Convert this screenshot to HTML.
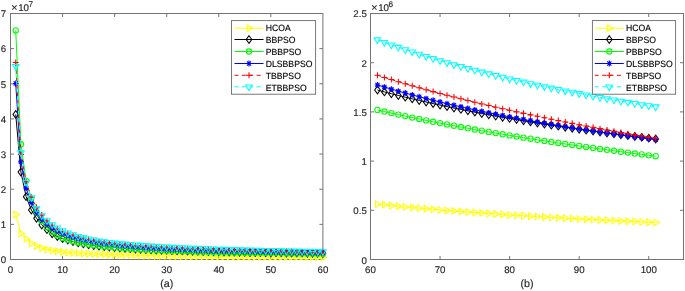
<!DOCTYPE html>
<html><head><meta charset="utf-8"><title>chart</title>
<style>html,body{margin:0;padding:0;background:#fff}body{width:685px;height:291px;overflow:hidden;font-family:"Liberation Sans",sans-serif}</style>
</head><body>
<svg width="685" height="291" viewBox="0 0 685 291" style="display:block;will-change:transform">
<rect width="685" height="291" fill="#fff"/>
<g fill="none" stroke="#747474" stroke-width="1">
<rect x="10.5" y="13.5" width="312.40" height="246.00"/>
<path d="M62.57 259.5v-3.5M62.57 13.5v3.5M114.63 259.5v-3.5M114.63 13.5v3.5M166.70 259.5v-3.5M166.70 13.5v3.5M218.77 259.5v-3.5M218.77 13.5v3.5M270.83 259.5v-3.5M270.83 13.5v3.5M10.5 224.36h3.5M322.9 224.36h-3.5M10.5 189.21h3.5M322.9 189.21h-3.5M10.5 154.07h3.5M322.9 154.07h-3.5M10.5 118.93h3.5M322.9 118.93h-3.5M10.5 83.79h3.5M322.9 83.79h-3.5M10.5 48.64h3.5M322.9 48.64h-3.5"/>
</g>
<g font-family="Liberation Sans, sans-serif" text-rendering="geometricPrecision" font-size="9.7" fill="#262626" stroke="#262626" stroke-width="0.15">
<text x="10.50" y="272.9" text-anchor="middle">0</text>
<text x="62.57" y="272.9" text-anchor="middle">10</text>
<text x="114.63" y="272.9" text-anchor="middle">20</text>
<text x="166.70" y="272.9" text-anchor="middle">30</text>
<text x="218.77" y="272.9" text-anchor="middle">40</text>
<text x="270.83" y="272.9" text-anchor="middle">50</text>
<text x="322.90" y="272.9" text-anchor="middle">60</text>
<text x="6.10" y="263.30" text-anchor="end">0</text>
<text x="6.10" y="228.16" text-anchor="end">1</text>
<text x="6.10" y="193.01" text-anchor="end">2</text>
<text x="6.10" y="157.57" text-anchor="end">3</text>
<text x="6.10" y="122.73" text-anchor="end">4</text>
<text x="6.10" y="87.59" text-anchor="end">5</text>
<text x="6.10" y="52.44" text-anchor="end">6</text>
<text x="6.10" y="17.00" text-anchor="end">7</text>
<text x="11.30" y="11.4" font-size="10.6">×</text>
<text x="18.20" y="11.2">10</text>
<text x="28.40" y="6.9" font-size="8.2">7</text>
<text x="166.70" y="286.6" text-anchor="middle" font-size="10.7">(a)</text>
</g>
<g fill="none" stroke="#ffff00">
<polyline stroke-width="1.0" points="15.71,214.57 20.91,233.58 26.12,238.89 31.33,243.35 36.53,246.12 41.74,248.02 46.95,249.41 52.15,250.47 57.36,251.31 62.57,252.00 67.77,252.43 72.98,252.81 78.19,253.14 83.39,253.43 88.60,253.68 93.81,253.91 99.01,254.12 104.22,254.31 109.43,254.48 114.63,254.63 119.84,254.80 125.05,254.96 130.25,255.10 135.46,255.23 140.67,255.36 145.87,255.47 151.08,255.58 156.29,255.68 161.49,255.77 166.70,255.86 171.91,255.94 177.11,256.02 182.32,256.09 187.53,256.16 192.73,256.23 197.94,256.29 203.15,256.35 208.35,256.40 213.56,256.46 218.77,256.51 223.97,256.56 229.18,256.60 234.39,256.65 239.59,256.69 244.80,256.73 250.01,256.77 255.21,256.81 260.42,256.85 265.63,256.89 270.83,256.92 276.04,256.95 281.25,256.99 286.45,257.02 291.66,257.05 296.87,257.08 302.07,257.11 307.28,257.13 312.49,257.16 317.69,257.19 322.90,257.21"/>
<g stroke-width="1.05">
<path d="M13.81 211.27V217.87L19.51 214.57Z"/>
<path d="M19.01 230.28V236.88L24.71 233.58Z"/>
<path d="M24.22 235.59V242.19L29.92 238.89Z"/>
<path d="M29.43 240.05V246.65L35.13 243.35Z"/>
<path d="M34.63 242.82V249.42L40.33 246.12Z"/>
<path d="M39.84 244.72V251.32L45.54 248.02Z"/>
<path d="M45.05 246.11V252.71L50.75 249.41Z"/>
<path d="M50.25 247.17V253.77L55.95 250.47Z"/>
<path d="M55.46 248.01V254.61L61.16 251.31Z"/>
<path d="M60.67 248.70V255.30L66.37 252.00Z"/>
<path d="M65.87 249.13V255.73L71.57 252.43Z"/>
<path d="M71.08 249.51V256.11L76.78 252.81Z"/>
<path d="M76.29 249.84V256.44L81.99 253.14Z"/>
<path d="M81.49 250.13V256.73L87.19 253.43Z"/>
<path d="M86.70 250.38V256.98L92.40 253.68Z"/>
<path d="M91.91 250.61V257.21L97.61 253.91Z"/>
<path d="M97.11 250.82V257.42L102.81 254.12Z"/>
<path d="M102.32 251.01V257.61L108.02 254.31Z"/>
<path d="M107.53 251.18V257.78L113.23 254.48Z"/>
<path d="M112.73 251.33V257.93L118.43 254.63Z"/>
<path d="M117.94 251.50V258.10L123.64 254.80Z"/>
<path d="M123.15 251.66V258.26L128.85 254.96Z"/>
<path d="M128.35 251.80V258.40L134.05 255.10Z"/>
<path d="M133.56 251.93V258.53L139.26 255.23Z"/>
<path d="M138.77 252.06V258.66L144.47 255.36Z"/>
<path d="M143.97 252.17V258.77L149.67 255.47Z"/>
<path d="M149.18 252.28V258.88L154.88 255.58Z"/>
<path d="M154.39 252.38V258.98L160.09 255.68Z"/>
<path d="M159.59 252.47V259.07L165.29 255.77Z"/>
<path d="M164.80 252.56V259.16L170.50 255.86Z"/>
<path d="M170.01 252.64V259.24L175.71 255.94Z"/>
<path d="M175.21 252.72V259.32L180.91 256.02Z"/>
<path d="M180.42 252.79V259.39L186.12 256.09Z"/>
<path d="M185.63 252.86V259.46L191.33 256.16Z"/>
<path d="M190.83 252.93V259.53L196.53 256.23Z"/>
<path d="M196.04 252.99V259.59L201.74 256.29Z"/>
<path d="M201.25 253.05V259.65L206.95 256.35Z"/>
<path d="M206.45 253.10V259.70L212.15 256.40Z"/>
<path d="M211.66 253.16V259.76L217.36 256.46Z"/>
<path d="M216.87 253.21V259.81L222.57 256.51Z"/>
<path d="M222.07 253.26V259.86L227.77 256.56Z"/>
<path d="M227.28 253.30V259.90L232.98 256.60Z"/>
<path d="M232.49 253.35V259.95L238.19 256.65Z"/>
<path d="M237.69 253.39V259.99L243.39 256.69Z"/>
<path d="M242.90 253.43V260.03L248.60 256.73Z"/>
<path d="M248.11 253.47V260.07L253.81 256.77Z"/>
<path d="M253.31 253.51V260.11L259.01 256.81Z"/>
<path d="M258.52 253.55V260.15L264.22 256.85Z"/>
<path d="M263.73 253.59V260.19L269.43 256.89Z"/>
<path d="M268.93 253.62V260.22L274.63 256.92Z"/>
<path d="M274.14 253.65V260.25L279.84 256.95Z"/>
<path d="M279.35 253.69V260.29L285.05 256.99Z"/>
<path d="M284.55 253.72V260.32L290.25 257.02Z"/>
<path d="M289.76 253.75V260.35L295.46 257.05Z"/>
<path d="M294.97 253.78V260.38L300.67 257.08Z"/>
<path d="M300.17 253.81V260.41L305.87 257.11Z"/>
<path d="M305.38 253.83V260.43L311.08 257.13Z"/>
<path d="M310.59 253.86V260.46L316.29 257.16Z"/>
<path d="M315.79 253.89V260.49L321.49 257.19Z"/>
<path d="M321.00 253.91V260.51L326.70 257.21Z"/>
</g></g>
<g fill="none" stroke="#000000">
<polyline stroke-width="1.0" points="15.71,114.41 20.91,172.05 26.12,196.65 31.33,210.00 36.53,218.26 41.74,224.94 46.95,229.68 52.15,233.72 57.36,236.53 62.57,238.57 67.77,240.12 72.98,241.52 78.19,242.82 83.39,243.88 88.60,244.72 93.81,245.57 99.01,246.12 104.22,246.62 109.43,247.06 114.63,247.46 119.84,247.90 125.05,248.30 130.25,248.67 135.46,249.01 140.67,249.28 145.87,249.54 151.08,249.78 156.29,250.00 161.49,250.22 166.70,250.42 171.91,250.59 177.11,250.76 182.32,250.92 187.53,251.07 192.73,251.22 197.94,251.35 203.15,251.49 208.35,251.61 213.56,251.73 218.77,251.85 223.97,251.96 229.18,252.07 234.39,252.17 239.59,252.27 244.80,252.36 250.01,252.44 255.21,252.53 260.42,252.61 265.63,252.69 270.83,252.77 276.04,252.84 281.25,252.91 286.45,252.98 291.66,253.05 296.87,253.12 302.07,253.18 307.28,253.24 312.49,253.30 317.69,253.36 322.90,253.42"/>
<g stroke-width="1.05">
<path d="M15.71 110.61L18.51 114.41L15.71 118.21L12.91 114.41Z"/>
<path d="M20.91 168.25L23.71 172.05L20.91 175.85L18.11 172.05Z"/>
<path d="M26.12 192.85L28.92 196.65L26.12 200.45L23.32 196.65Z"/>
<path d="M31.33 206.20L34.13 210.00L31.33 213.80L28.53 210.00Z"/>
<path d="M36.53 214.46L39.33 218.26L36.53 222.06L33.73 218.26Z"/>
<path d="M41.74 221.14L44.54 224.94L41.74 228.74L38.94 224.94Z"/>
<path d="M46.95 225.88L49.75 229.68L46.95 233.48L44.15 229.68Z"/>
<path d="M52.15 229.92L54.95 233.72L52.15 237.52L49.35 233.72Z"/>
<path d="M57.36 232.73L60.16 236.53L57.36 240.33L54.56 236.53Z"/>
<path d="M62.57 234.77L65.37 238.57L62.57 242.37L59.77 238.57Z"/>
<path d="M67.77 236.32L70.57 240.12L67.77 243.92L64.97 240.12Z"/>
<path d="M72.98 237.72L75.78 241.52L72.98 245.32L70.18 241.52Z"/>
<path d="M78.19 239.02L80.99 242.82L78.19 246.62L75.39 242.82Z"/>
<path d="M83.39 240.08L86.19 243.88L83.39 247.68L80.59 243.88Z"/>
<path d="M88.60 240.92L91.40 244.72L88.60 248.52L85.80 244.72Z"/>
<path d="M93.81 241.77L96.61 245.57L93.81 249.37L91.01 245.57Z"/>
<path d="M99.01 242.32L101.81 246.12L99.01 249.92L96.21 246.12Z"/>
<path d="M104.22 242.82L107.02 246.62L104.22 250.42L101.42 246.62Z"/>
<path d="M109.43 243.26L112.23 247.06L109.43 250.86L106.63 247.06Z"/>
<path d="M114.63 243.66L117.43 247.46L114.63 251.26L111.83 247.46Z"/>
<path d="M119.84 244.10L122.64 247.90L119.84 251.70L117.04 247.90Z"/>
<path d="M125.05 244.50L127.85 248.30L125.05 252.10L122.25 248.30Z"/>
<path d="M130.25 244.87L133.05 248.67L130.25 252.47L127.45 248.67Z"/>
<path d="M135.46 245.21L138.26 249.01L135.46 252.81L132.66 249.01Z"/>
<path d="M140.67 245.48L143.47 249.28L140.67 253.08L137.87 249.28Z"/>
<path d="M145.87 245.74L148.67 249.54L145.87 253.34L143.07 249.54Z"/>
<path d="M151.08 245.98L153.88 249.78L151.08 253.58L148.28 249.78Z"/>
<path d="M156.29 246.20L159.09 250.00L156.29 253.80L153.49 250.00Z"/>
<path d="M161.49 246.42L164.29 250.22L161.49 254.02L158.69 250.22Z"/>
<path d="M166.70 246.62L169.50 250.42L166.70 254.22L163.90 250.42Z"/>
<path d="M171.91 246.79L174.71 250.59L171.91 254.39L169.11 250.59Z"/>
<path d="M177.11 246.96L179.91 250.76L177.11 254.56L174.31 250.76Z"/>
<path d="M182.32 247.12L185.12 250.92L182.32 254.72L179.52 250.92Z"/>
<path d="M187.53 247.27L190.33 251.07L187.53 254.87L184.73 251.07Z"/>
<path d="M192.73 247.42L195.53 251.22L192.73 255.02L189.93 251.22Z"/>
<path d="M197.94 247.55L200.74 251.35L197.94 255.15L195.14 251.35Z"/>
<path d="M203.15 247.69L205.95 251.49L203.15 255.29L200.35 251.49Z"/>
<path d="M208.35 247.81L211.15 251.61L208.35 255.41L205.55 251.61Z"/>
<path d="M213.56 247.93L216.36 251.73L213.56 255.53L210.76 251.73Z"/>
<path d="M218.77 248.05L221.57 251.85L218.77 255.65L215.97 251.85Z"/>
<path d="M223.97 248.16L226.77 251.96L223.97 255.76L221.17 251.96Z"/>
<path d="M229.18 248.27L231.98 252.07L229.18 255.87L226.38 252.07Z"/>
<path d="M234.39 248.37L237.19 252.17L234.39 255.97L231.59 252.17Z"/>
<path d="M239.59 248.47L242.39 252.27L239.59 256.07L236.79 252.27Z"/>
<path d="M244.80 248.56L247.60 252.36L244.80 256.16L242.00 252.36Z"/>
<path d="M250.01 248.64L252.81 252.44L250.01 256.24L247.21 252.44Z"/>
<path d="M255.21 248.73L258.01 252.53L255.21 256.33L252.41 252.53Z"/>
<path d="M260.42 248.81L263.22 252.61L260.42 256.41L257.62 252.61Z"/>
<path d="M265.63 248.89L268.43 252.69L265.63 256.49L262.83 252.69Z"/>
<path d="M270.83 248.97L273.63 252.77L270.83 256.57L268.03 252.77Z"/>
<path d="M276.04 249.04L278.84 252.84L276.04 256.64L273.24 252.84Z"/>
<path d="M281.25 249.11L284.05 252.91L281.25 256.71L278.45 252.91Z"/>
<path d="M286.45 249.18L289.25 252.98L286.45 256.78L283.65 252.98Z"/>
<path d="M291.66 249.25L294.46 253.05L291.66 256.85L288.86 253.05Z"/>
<path d="M296.87 249.32L299.67 253.12L296.87 256.92L294.07 253.12Z"/>
<path d="M302.07 249.38L304.87 253.18L302.07 256.98L299.27 253.18Z"/>
<path d="M307.28 249.44L310.08 253.24L307.28 257.04L304.48 253.24Z"/>
<path d="M312.49 249.50L315.29 253.30L312.49 257.10L309.69 253.30Z"/>
<path d="M317.69 249.56L320.49 253.36L317.69 257.16L314.89 253.36Z"/>
<path d="M322.90 249.62L325.70 253.42L322.90 257.22L320.10 253.42Z"/>
</g></g>
<g fill="none" stroke="#00ff00">
<polyline stroke-width="1.0" points="15.71,30.42 20.91,144.28 26.12,180.83 31.33,198.76 36.53,212.43 41.74,221.27 46.95,227.43 52.15,231.95 57.36,235.40 62.57,238.12 67.77,239.81 72.98,241.24 78.19,242.46 83.39,243.52 88.60,244.44 93.81,245.22 99.01,245.91 104.22,246.53 109.43,247.09 114.63,247.60 119.84,248.04 125.05,248.44 130.25,248.81 135.46,249.15 140.67,249.47 145.87,249.76 151.08,250.04 156.29,250.30 161.49,250.54 166.70,250.77 171.91,250.94 177.11,251.11 182.32,251.27 187.53,251.42 192.73,251.57 197.94,251.71 203.15,251.84 208.35,251.97 213.56,252.09 218.77,252.20 223.97,252.31 229.18,252.42 234.39,252.52 239.59,252.62 244.80,252.72 250.01,252.81 255.21,252.90 260.42,252.98 265.63,253.06 270.83,253.14 276.04,253.22 281.25,253.29 286.45,253.37 291.66,253.43 296.87,253.50 302.07,253.57 307.28,253.63 312.49,253.69 317.69,253.75 322.90,253.81"/>
<g stroke-width="1.05">
<circle cx="15.71" cy="30.42" r="2.65"/>
<circle cx="20.91" cy="144.28" r="2.65"/>
<circle cx="26.12" cy="180.83" r="2.65"/>
<circle cx="31.33" cy="198.76" r="2.65"/>
<circle cx="36.53" cy="212.43" r="2.65"/>
<circle cx="41.74" cy="221.27" r="2.65"/>
<circle cx="46.95" cy="227.43" r="2.65"/>
<circle cx="52.15" cy="231.95" r="2.65"/>
<circle cx="57.36" cy="235.40" r="2.65"/>
<circle cx="62.57" cy="238.12" r="2.65"/>
<circle cx="67.77" cy="239.81" r="2.65"/>
<circle cx="72.98" cy="241.24" r="2.65"/>
<circle cx="78.19" cy="242.46" r="2.65"/>
<circle cx="83.39" cy="243.52" r="2.65"/>
<circle cx="88.60" cy="244.44" r="2.65"/>
<circle cx="93.81" cy="245.22" r="2.65"/>
<circle cx="99.01" cy="245.91" r="2.65"/>
<circle cx="104.22" cy="246.53" r="2.65"/>
<circle cx="109.43" cy="247.09" r="2.65"/>
<circle cx="114.63" cy="247.60" r="2.65"/>
<circle cx="119.84" cy="248.04" r="2.65"/>
<circle cx="125.05" cy="248.44" r="2.65"/>
<circle cx="130.25" cy="248.81" r="2.65"/>
<circle cx="135.46" cy="249.15" r="2.65"/>
<circle cx="140.67" cy="249.47" r="2.65"/>
<circle cx="145.87" cy="249.76" r="2.65"/>
<circle cx="151.08" cy="250.04" r="2.65"/>
<circle cx="156.29" cy="250.30" r="2.65"/>
<circle cx="161.49" cy="250.54" r="2.65"/>
<circle cx="166.70" cy="250.77" r="2.65"/>
<circle cx="171.91" cy="250.94" r="2.65"/>
<circle cx="177.11" cy="251.11" r="2.65"/>
<circle cx="182.32" cy="251.27" r="2.65"/>
<circle cx="187.53" cy="251.42" r="2.65"/>
<circle cx="192.73" cy="251.57" r="2.65"/>
<circle cx="197.94" cy="251.71" r="2.65"/>
<circle cx="203.15" cy="251.84" r="2.65"/>
<circle cx="208.35" cy="251.97" r="2.65"/>
<circle cx="213.56" cy="252.09" r="2.65"/>
<circle cx="218.77" cy="252.20" r="2.65"/>
<circle cx="223.97" cy="252.31" r="2.65"/>
<circle cx="229.18" cy="252.42" r="2.65"/>
<circle cx="234.39" cy="252.52" r="2.65"/>
<circle cx="239.59" cy="252.62" r="2.65"/>
<circle cx="244.80" cy="252.72" r="2.65"/>
<circle cx="250.01" cy="252.81" r="2.65"/>
<circle cx="255.21" cy="252.90" r="2.65"/>
<circle cx="260.42" cy="252.98" r="2.65"/>
<circle cx="265.63" cy="253.06" r="2.65"/>
<circle cx="270.83" cy="253.14" r="2.65"/>
<circle cx="276.04" cy="253.22" r="2.65"/>
<circle cx="281.25" cy="253.29" r="2.65"/>
<circle cx="286.45" cy="253.37" r="2.65"/>
<circle cx="291.66" cy="253.43" r="2.65"/>
<circle cx="296.87" cy="253.50" r="2.65"/>
<circle cx="302.07" cy="253.57" r="2.65"/>
<circle cx="307.28" cy="253.63" r="2.65"/>
<circle cx="312.49" cy="253.69" r="2.65"/>
<circle cx="317.69" cy="253.75" r="2.65"/>
<circle cx="322.90" cy="253.81" r="2.65"/>
</g></g>
<g fill="none" stroke="#0000ff">
<polyline stroke-width="1.0" points="15.71,83.49 20.91,161.86 26.12,188.21 31.33,202.62 36.53,212.53 41.74,219.33 46.95,224.30 52.15,228.10 57.36,231.10 62.57,233.55 67.77,235.50 72.98,237.16 78.19,238.58 83.39,239.81 88.60,240.89 93.81,241.85 99.01,242.71 104.22,243.47 109.43,244.16 114.63,244.79 119.84,245.38 125.05,245.92 130.25,246.41 135.46,246.87 140.67,247.29 145.87,247.69 151.08,248.05 156.29,248.39 161.49,248.71 166.70,249.01 171.91,249.24 177.11,249.46 182.32,249.67 187.53,249.87 192.73,250.06 197.94,250.24 203.15,250.41 208.35,250.57 213.56,250.73 218.77,250.88 223.97,251.02 229.18,251.16 234.39,251.29 239.59,251.42 244.80,251.54 250.01,251.65 255.21,251.76 260.42,251.87 265.63,251.97 270.83,252.07 276.04,252.17 281.25,252.26 286.45,252.35 291.66,252.44 296.87,252.52 302.07,252.60 307.28,252.68 312.49,252.76 317.69,252.83 322.90,252.91"/>
<g stroke-width="1.05">
<path stroke-width="1.12" d="M13.01 83.49H18.41M15.71 80.59V86.39M13.66 81.44L17.76 85.54M13.66 85.54L17.76 81.44"/>
<path stroke-width="1.12" d="M18.21 161.86H23.61M20.91 158.96V164.76M18.86 159.81L22.96 163.91M18.86 163.91L22.96 159.81"/>
<path stroke-width="1.12" d="M23.42 188.21H28.82M26.12 185.31V191.11M24.07 186.16L28.17 190.26M24.07 190.26L28.17 186.16"/>
<path stroke-width="1.12" d="M28.63 202.62H34.03M31.33 199.72V205.52M29.28 200.57L33.38 204.67M29.28 204.67L33.38 200.57"/>
<path stroke-width="1.12" d="M33.83 212.53H39.23M36.53 209.63V215.43M34.48 210.48L38.58 214.58M34.48 214.58L38.58 210.48"/>
<path stroke-width="1.12" d="M39.04 219.33H44.44M41.74 216.43V222.23M39.69 217.28L43.79 221.38M39.69 221.38L43.79 217.28"/>
<path stroke-width="1.12" d="M44.25 224.30H49.65M46.95 221.40V227.20M44.90 222.25L49.00 226.35M44.90 226.35L49.00 222.25"/>
<path stroke-width="1.12" d="M49.45 228.10H54.85M52.15 225.20V231.00M50.10 226.05L54.20 230.15M50.10 230.15L54.20 226.05"/>
<path stroke-width="1.12" d="M54.66 231.10H60.06M57.36 228.20V234.00M55.31 229.05L59.41 233.15M55.31 233.15L59.41 229.05"/>
<path stroke-width="1.12" d="M59.87 233.55H65.27M62.57 230.65V236.45M60.52 231.50L64.62 235.60M60.52 235.60L64.62 231.50"/>
<path stroke-width="1.12" d="M65.07 235.50H70.47M67.77 232.60V238.40M65.72 233.45L69.82 237.55M65.72 237.55L69.82 233.45"/>
<path stroke-width="1.12" d="M70.28 237.16H75.68M72.98 234.26V240.06M70.93 235.11L75.03 239.21M70.93 239.21L75.03 235.11"/>
<path stroke-width="1.12" d="M75.49 238.58H80.89M78.19 235.68V241.48M76.14 236.53L80.24 240.63M76.14 240.63L80.24 236.53"/>
<path stroke-width="1.12" d="M80.69 239.81H86.09M83.39 236.91V242.71M81.34 237.76L85.44 241.86M81.34 241.86L85.44 237.76"/>
<path stroke-width="1.12" d="M85.90 240.89H91.30M88.60 237.99V243.79M86.55 238.84L90.65 242.94M86.55 242.94L90.65 238.84"/>
<path stroke-width="1.12" d="M91.11 241.85H96.51M93.81 238.95V244.75M91.76 239.80L95.86 243.90M91.76 243.90L95.86 239.80"/>
<path stroke-width="1.12" d="M96.31 242.71H101.71M99.01 239.81V245.61M96.96 240.66L101.06 244.76M96.96 244.76L101.06 240.66"/>
<path stroke-width="1.12" d="M101.52 243.47H106.92M104.22 240.57V246.37M102.17 241.42L106.27 245.52M102.17 245.52L106.27 241.42"/>
<path stroke-width="1.12" d="M106.73 244.16H112.13M109.43 241.26V247.06M107.38 242.11L111.48 246.21M107.38 246.21L111.48 242.11"/>
<path stroke-width="1.12" d="M111.93 244.79H117.33M114.63 241.89V247.69M112.58 242.74L116.68 246.84M112.58 246.84L116.68 242.74"/>
<path stroke-width="1.12" d="M117.14 245.38H122.54M119.84 242.48V248.28M117.79 243.33L121.89 247.43M117.79 247.43L121.89 243.33"/>
<path stroke-width="1.12" d="M122.35 245.92H127.75M125.05 243.02V248.82M123.00 243.87L127.10 247.97M123.00 247.97L127.10 243.87"/>
<path stroke-width="1.12" d="M127.55 246.41H132.95M130.25 243.51V249.31M128.20 244.36L132.30 248.46M128.20 248.46L132.30 244.36"/>
<path stroke-width="1.12" d="M132.76 246.87H138.16M135.46 243.97V249.77M133.41 244.82L137.51 248.92M133.41 248.92L137.51 244.82"/>
<path stroke-width="1.12" d="M137.97 247.29H143.37M140.67 244.39V250.19M138.62 245.24L142.72 249.34M138.62 249.34L142.72 245.24"/>
<path stroke-width="1.12" d="M143.17 247.69H148.57M145.87 244.79V250.59M143.82 245.64L147.92 249.74M143.82 249.74L147.92 245.64"/>
<path stroke-width="1.12" d="M148.38 248.05H153.78M151.08 245.15V250.95M149.03 246.00L153.13 250.10M149.03 250.10L153.13 246.00"/>
<path stroke-width="1.12" d="M153.59 248.39H158.99M156.29 245.49V251.29M154.24 246.34L158.34 250.44M154.24 250.44L158.34 246.34"/>
<path stroke-width="1.12" d="M158.79 248.71H164.19M161.49 245.81V251.61M159.44 246.66L163.54 250.76M159.44 250.76L163.54 246.66"/>
<path stroke-width="1.12" d="M164.00 249.01H169.40M166.70 246.11V251.91M164.65 246.96L168.75 251.06M164.65 251.06L168.75 246.96"/>
<path stroke-width="1.12" d="M169.21 249.24H174.61M171.91 246.34V252.14M169.86 247.19L173.96 251.29M169.86 251.29L173.96 247.19"/>
<path stroke-width="1.12" d="M174.41 249.46H179.81M177.11 246.56V252.36M175.06 247.41L179.16 251.51M175.06 251.51L179.16 247.41"/>
<path stroke-width="1.12" d="M179.62 249.67H185.02M182.32 246.77V252.57M180.27 247.62L184.37 251.72M180.27 251.72L184.37 247.62"/>
<path stroke-width="1.12" d="M184.83 249.87H190.23M187.53 246.97V252.77M185.48 247.82L189.58 251.92M185.48 251.92L189.58 247.82"/>
<path stroke-width="1.12" d="M190.03 250.06H195.43M192.73 247.16V252.96M190.68 248.01L194.78 252.11M190.68 252.11L194.78 248.01"/>
<path stroke-width="1.12" d="M195.24 250.24H200.64M197.94 247.34V253.14M195.89 248.19L199.99 252.29M195.89 252.29L199.99 248.19"/>
<path stroke-width="1.12" d="M200.45 250.41H205.85M203.15 247.51V253.31M201.10 248.36L205.20 252.46M201.10 252.46L205.20 248.36"/>
<path stroke-width="1.12" d="M205.65 250.57H211.05M208.35 247.67V253.47M206.30 248.52L210.40 252.62M206.30 252.62L210.40 248.52"/>
<path stroke-width="1.12" d="M210.86 250.73H216.26M213.56 247.83V253.63M211.51 248.68L215.61 252.78M211.51 252.78L215.61 248.68"/>
<path stroke-width="1.12" d="M216.07 250.88H221.47M218.77 247.98V253.78M216.72 248.83L220.82 252.93M216.72 252.93L220.82 248.83"/>
<path stroke-width="1.12" d="M221.27 251.02H226.67M223.97 248.12V253.92M221.92 248.97L226.02 253.07M221.92 253.07L226.02 248.97"/>
<path stroke-width="1.12" d="M226.48 251.16H231.88M229.18 248.26V254.06M227.13 249.11L231.23 253.21M227.13 253.21L231.23 249.11"/>
<path stroke-width="1.12" d="M231.69 251.29H237.09M234.39 248.39V254.19M232.34 249.24L236.44 253.34M232.34 253.34L236.44 249.24"/>
<path stroke-width="1.12" d="M236.89 251.42H242.29M239.59 248.52V254.32M237.54 249.37L241.64 253.47M237.54 253.47L241.64 249.37"/>
<path stroke-width="1.12" d="M242.10 251.54H247.50M244.80 248.64V254.44M242.75 249.49L246.85 253.59M242.75 253.59L246.85 249.49"/>
<path stroke-width="1.12" d="M247.31 251.65H252.71M250.01 248.75V254.55M247.96 249.60L252.06 253.70M247.96 253.70L252.06 249.60"/>
<path stroke-width="1.12" d="M252.51 251.76H257.91M255.21 248.86V254.66M253.16 249.71L257.26 253.81M253.16 253.81L257.26 249.71"/>
<path stroke-width="1.12" d="M257.72 251.87H263.12M260.42 248.97V254.77M258.37 249.82L262.47 253.92M258.37 253.92L262.47 249.82"/>
<path stroke-width="1.12" d="M262.93 251.97H268.33M265.63 249.07V254.87M263.58 249.92L267.68 254.02M263.58 254.02L267.68 249.92"/>
<path stroke-width="1.12" d="M268.13 252.07H273.53M270.83 249.17V254.97M268.78 250.02L272.88 254.12M268.78 254.12L272.88 250.02"/>
<path stroke-width="1.12" d="M273.34 252.17H278.74M276.04 249.27V255.07M273.99 250.12L278.09 254.22M273.99 254.22L278.09 250.12"/>
<path stroke-width="1.12" d="M278.55 252.26H283.95M281.25 249.36V255.16M279.20 250.21L283.30 254.31M279.20 254.31L283.30 250.21"/>
<path stroke-width="1.12" d="M283.75 252.35H289.15M286.45 249.45V255.25M284.40 250.30L288.50 254.40M284.40 254.40L288.50 250.30"/>
<path stroke-width="1.12" d="M288.96 252.44H294.36M291.66 249.54V255.34M289.61 250.39L293.71 254.49M289.61 254.49L293.71 250.39"/>
<path stroke-width="1.12" d="M294.17 252.52H299.57M296.87 249.62V255.42M294.82 250.47L298.92 254.57M294.82 254.57L298.92 250.47"/>
<path stroke-width="1.12" d="M299.37 252.60H304.77M302.07 249.70V255.50M300.02 250.55L304.12 254.65M300.02 254.65L304.12 250.55"/>
<path stroke-width="1.12" d="M304.58 252.68H309.98M307.28 249.78V255.58M305.23 250.63L309.33 254.73M305.23 254.73L309.33 250.63"/>
<path stroke-width="1.12" d="M309.79 252.76H315.19M312.49 249.86V255.66M310.44 250.71L314.54 254.81M310.44 254.81L314.54 250.71"/>
<path stroke-width="1.12" d="M314.99 252.83H320.39M317.69 249.93V255.73M315.64 250.78L319.74 254.88M315.64 254.88L319.74 250.78"/>
<path stroke-width="1.12" d="M320.20 252.91H325.60M322.90 250.01V255.81M320.85 250.86L324.95 254.96M320.85 254.96L324.95 250.86"/>
</g></g>
<g fill="none" stroke="#ff0000">
<polyline stroke-width="1.0" stroke-dasharray="3.9 3.5" points="15.71,62.58 20.91,154.48 26.12,181.89 31.33,197.36 36.53,207.19 41.74,215.11 46.95,220.85 52.15,225.22 57.36,228.66 62.57,231.44 67.77,233.60 72.98,235.42 78.19,236.98 83.39,238.33 88.60,239.52 93.81,240.56 99.01,241.48 104.22,242.31 109.43,243.06 114.63,243.74 119.84,244.29 125.05,244.80 130.25,245.27 135.46,245.71 140.67,246.11 145.87,246.49 151.08,246.84 156.29,247.18 161.49,247.49 166.70,247.78 171.91,248.05 177.11,248.30 182.32,248.55 187.53,248.78 192.73,248.99 197.94,249.20 203.15,249.40 208.35,249.59 213.56,249.77 218.77,249.94 223.97,250.11 229.18,250.26 234.39,250.42 239.59,250.60 244.80,250.78 250.01,250.95 255.21,251.12 260.42,251.28 265.63,251.43 270.83,251.58 276.04,251.72 281.25,251.85 286.45,251.98 291.66,252.11 296.87,252.23 302.07,252.35 307.28,252.46 312.49,252.57 317.69,252.67 322.90,252.78"/>
<g stroke-width="1.05">
<path d="M12.71 62.58H18.71M15.71 59.58V65.58"/>
<path d="M17.91 154.48H23.91M20.91 151.48V157.48"/>
<path d="M23.12 181.89H29.12M26.12 178.89V184.89"/>
<path d="M28.33 197.36H34.33M31.33 194.36V200.36"/>
<path d="M33.53 207.19H39.53M36.53 204.19V210.19"/>
<path d="M38.74 215.11H44.74M41.74 212.11V218.11"/>
<path d="M43.95 220.85H49.95M46.95 217.85V223.85"/>
<path d="M49.15 225.22H55.15M52.15 222.22V228.22"/>
<path d="M54.36 228.66H60.36M57.36 225.66V231.66"/>
<path d="M59.57 231.44H65.57M62.57 228.44V234.44"/>
<path d="M64.77 233.60H70.77M67.77 230.60V236.60"/>
<path d="M69.98 235.42H75.98M72.98 232.42V238.42"/>
<path d="M75.19 236.98H81.19M78.19 233.98V239.98"/>
<path d="M80.39 238.33H86.39M83.39 235.33V241.33"/>
<path d="M85.60 239.52H91.60M88.60 236.52V242.52"/>
<path d="M90.81 240.56H96.81M93.81 237.56V243.56"/>
<path d="M96.01 241.48H102.01M99.01 238.48V244.48"/>
<path d="M101.22 242.31H107.22M104.22 239.31V245.31"/>
<path d="M106.43 243.06H112.43M109.43 240.06V246.06"/>
<path d="M111.63 243.74H117.63M114.63 240.74V246.74"/>
<path d="M116.84 244.29H122.84M119.84 241.29V247.29"/>
<path d="M122.05 244.80H128.05M125.05 241.80V247.80"/>
<path d="M127.25 245.27H133.25M130.25 242.27V248.27"/>
<path d="M132.46 245.71H138.46M135.46 242.71V248.71"/>
<path d="M137.67 246.11H143.67M140.67 243.11V249.11"/>
<path d="M142.87 246.49H148.87M145.87 243.49V249.49"/>
<path d="M148.08 246.84H154.08M151.08 243.84V249.84"/>
<path d="M153.29 247.18H159.29M156.29 244.18V250.18"/>
<path d="M158.49 247.49H164.49M161.49 244.49V250.49"/>
<path d="M163.70 247.78H169.70M166.70 244.78V250.78"/>
<path d="M168.91 248.05H174.91M171.91 245.05V251.05"/>
<path d="M174.11 248.30H180.11M177.11 245.30V251.30"/>
<path d="M179.32 248.55H185.32M182.32 245.55V251.55"/>
<path d="M184.53 248.78H190.53M187.53 245.78V251.78"/>
<path d="M189.73 248.99H195.73M192.73 245.99V251.99"/>
<path d="M194.94 249.20H200.94M197.94 246.20V252.20"/>
<path d="M200.15 249.40H206.15M203.15 246.40V252.40"/>
<path d="M205.35 249.59H211.35M208.35 246.59V252.59"/>
<path d="M210.56 249.77H216.56M213.56 246.77V252.77"/>
<path d="M215.77 249.94H221.77M218.77 246.94V252.94"/>
<path d="M220.97 250.11H226.97M223.97 247.11V253.11"/>
<path d="M226.18 250.26H232.18M229.18 247.26V253.26"/>
<path d="M231.39 250.42H237.39M234.39 247.42V253.42"/>
<path d="M236.59 250.60H242.59M239.59 247.60V253.60"/>
<path d="M241.80 250.78H247.80M244.80 247.78V253.78"/>
<path d="M247.01 250.95H253.01M250.01 247.95V253.95"/>
<path d="M252.21 251.12H258.21M255.21 248.12V254.12"/>
<path d="M257.42 251.28H263.42M260.42 248.28V254.28"/>
<path d="M262.63 251.43H268.63M265.63 248.43V254.43"/>
<path d="M267.83 251.58H273.83M270.83 248.58V254.58"/>
<path d="M273.04 251.72H279.04M276.04 248.72V254.72"/>
<path d="M278.25 251.85H284.25M281.25 248.85V254.85"/>
<path d="M283.45 251.98H289.45M286.45 248.98V254.98"/>
<path d="M288.66 252.11H294.66M291.66 249.11V255.11"/>
<path d="M293.87 252.23H299.87M296.87 249.23V255.23"/>
<path d="M299.07 252.35H305.07M302.07 249.35V255.35"/>
<path d="M304.28 252.46H310.28M307.28 249.46V255.46"/>
<path d="M309.49 252.57H315.49M312.49 249.57V255.57"/>
<path d="M314.69 252.67H320.69M317.69 249.67V255.67"/>
<path d="M319.90 252.78H325.90M322.90 249.78V255.78"/>
</g></g>
<g fill="none" stroke="#00ffff">
<polyline stroke-width="1.0" stroke-dasharray="3.9 3.5" points="15.71,66.44 20.91,152.72 26.12,182.24 31.33,197.70 36.53,208.77 41.74,215.62 46.95,220.68 52.15,224.59 57.36,227.88 62.57,230.56 67.77,232.81 72.98,234.72 78.19,236.35 83.39,237.76 88.60,238.99 93.81,239.98 99.01,240.86 104.22,241.66 109.43,242.38 114.63,243.04 119.84,243.55 125.05,244.02 130.25,244.46 135.46,244.87 140.67,245.25 145.87,245.61 151.08,245.94 156.29,246.25 161.49,246.55 166.70,246.83 171.91,247.11 177.11,247.37 182.32,247.61 187.53,247.85 192.73,248.07 197.94,248.28 203.15,248.49 208.35,248.68 213.56,248.87 218.77,249.05 223.97,249.22 229.18,249.38 234.39,249.54 239.59,249.70 244.80,249.85 250.01,249.99 255.21,250.13 260.42,250.27 265.63,250.40 270.83,250.53 276.04,250.65 281.25,250.77 286.45,250.88 291.66,250.99 296.87,251.10 302.07,251.20 307.28,251.31 312.49,251.40 317.69,251.50 322.90,251.59"/>
<g stroke-width="1.05">
<path d="M12.41 64.54H19.01L15.71 70.24Z"/>
<path d="M17.61 150.82H24.21L20.91 156.52Z"/>
<path d="M22.82 180.34H29.42L26.12 186.04Z"/>
<path d="M28.03 195.80H34.63L31.33 201.50Z"/>
<path d="M33.23 206.87H39.83L36.53 212.57Z"/>
<path d="M38.44 213.72H45.04L41.74 219.42Z"/>
<path d="M43.65 218.78H50.25L46.95 224.48Z"/>
<path d="M48.85 222.69H55.45L52.15 228.39Z"/>
<path d="M54.06 225.98H60.66L57.36 231.68Z"/>
<path d="M59.27 228.66H65.87L62.57 234.36Z"/>
<path d="M64.47 230.91H71.07L67.77 236.61Z"/>
<path d="M69.68 232.82H76.28L72.98 238.52Z"/>
<path d="M74.89 234.45H81.49L78.19 240.15Z"/>
<path d="M80.09 235.86H86.69L83.39 241.56Z"/>
<path d="M85.30 237.09H91.90L88.60 242.79Z"/>
<path d="M90.51 238.08H97.11L93.81 243.78Z"/>
<path d="M95.71 238.96H102.31L99.01 244.66Z"/>
<path d="M100.92 239.76H107.52L104.22 245.46Z"/>
<path d="M106.13 240.48H112.73L109.43 246.18Z"/>
<path d="M111.33 241.14H117.93L114.63 246.84Z"/>
<path d="M116.54 241.65H123.14L119.84 247.35Z"/>
<path d="M121.75 242.12H128.35L125.05 247.82Z"/>
<path d="M126.95 242.56H133.55L130.25 248.26Z"/>
<path d="M132.16 242.97H138.76L135.46 248.67Z"/>
<path d="M137.37 243.35H143.97L140.67 249.05Z"/>
<path d="M142.57 243.71H149.17L145.87 249.41Z"/>
<path d="M147.78 244.04H154.38L151.08 249.74Z"/>
<path d="M152.99 244.35H159.59L156.29 250.05Z"/>
<path d="M158.19 244.65H164.79L161.49 250.35Z"/>
<path d="M163.40 244.93H170.00L166.70 250.63Z"/>
<path d="M168.61 245.21H175.21L171.91 250.91Z"/>
<path d="M173.81 245.47H180.41L177.11 251.17Z"/>
<path d="M179.02 245.71H185.62L182.32 251.41Z"/>
<path d="M184.23 245.95H190.83L187.53 251.65Z"/>
<path d="M189.43 246.17H196.03L192.73 251.87Z"/>
<path d="M194.64 246.38H201.24L197.94 252.08Z"/>
<path d="M199.85 246.59H206.45L203.15 252.29Z"/>
<path d="M205.05 246.78H211.65L208.35 252.48Z"/>
<path d="M210.26 246.97H216.86L213.56 252.67Z"/>
<path d="M215.47 247.15H222.07L218.77 252.85Z"/>
<path d="M220.67 247.32H227.27L223.97 253.02Z"/>
<path d="M225.88 247.48H232.48L229.18 253.18Z"/>
<path d="M231.09 247.64H237.69L234.39 253.34Z"/>
<path d="M236.29 247.80H242.89L239.59 253.50Z"/>
<path d="M241.50 247.95H248.10L244.80 253.65Z"/>
<path d="M246.71 248.09H253.31L250.01 253.79Z"/>
<path d="M251.91 248.23H258.51L255.21 253.93Z"/>
<path d="M257.12 248.37H263.72L260.42 254.07Z"/>
<path d="M262.33 248.50H268.93L265.63 254.20Z"/>
<path d="M267.53 248.63H274.13L270.83 254.33Z"/>
<path d="M272.74 248.75H279.34L276.04 254.45Z"/>
<path d="M277.95 248.87H284.55L281.25 254.57Z"/>
<path d="M283.15 248.98H289.75L286.45 254.68Z"/>
<path d="M288.36 249.09H294.96L291.66 254.79Z"/>
<path d="M293.57 249.20H300.17L296.87 254.90Z"/>
<path d="M298.77 249.30H305.37L302.07 255.00Z"/>
<path d="M303.98 249.41H310.58L307.28 255.11Z"/>
<path d="M309.19 249.50H315.79L312.49 255.20Z"/>
<path d="M314.39 249.60H320.99L317.69 255.30Z"/>
<path d="M319.60 249.69H326.20L322.90 255.39Z"/>
</g></g>
<rect x="231.5" y="20.6" width="84.1" height="73.6" fill="#fff" stroke="#6a6a6a" stroke-width="0.9"/>
<g fill="none" stroke="#ffff00"><path stroke-width="1.0" d="M234.50 28.20H263.50"/><g stroke-width="1.05"><path d="M247.10 24.90V31.50L252.80 28.20Z"/></g></g>
<text transform="translate(265.80 31.20) scale(0.95 1)" font-family="Liberation Sans, sans-serif" text-rendering="geometricPrecision" font-size="9.1" fill="#000" stroke="#000" stroke-width="0.15">HCOA</text>
<g fill="none" stroke="#000000"><path stroke-width="1.0" d="M234.50 39.50H263.50"/><g stroke-width="1.05"><path d="M249.00 35.70L251.80 39.50L249.00 43.30L246.20 39.50Z"/></g></g>
<text transform="translate(265.80 42.80) scale(0.95 1)" font-family="Liberation Sans, sans-serif" text-rendering="geometricPrecision" font-size="9.1" fill="#000" stroke="#000" stroke-width="0.15">BBPSO</text>
<g fill="none" stroke="#00ff00"><path stroke-width="1.0" d="M234.50 51.50H263.50"/><g stroke-width="1.05"><circle cx="249.00" cy="51.50" r="2.65"/></g></g>
<text transform="translate(265.80 54.80) scale(0.95 1)" font-family="Liberation Sans, sans-serif" text-rendering="geometricPrecision" font-size="9.1" fill="#000" stroke="#000" stroke-width="0.15">PBBPSO</text>
<g fill="none" stroke="#0000ff"><path stroke-width="1.0" d="M234.50 63.50H263.50"/><g stroke-width="1.05"><path stroke-width="1.12" d="M246.30 63.50H251.70M249.00 60.60V66.40M246.95 61.45L251.05 65.55M246.95 65.55L251.05 61.45"/></g></g>
<text transform="translate(265.80 66.80) scale(0.95 1)" font-family="Liberation Sans, sans-serif" text-rendering="geometricPrecision" font-size="9.1" fill="#000" stroke="#000" stroke-width="0.15">DLSBBPSO</text>
<g fill="none" stroke="#ff0000"><path stroke-width="1.0" stroke-dasharray="3.9 3.5" d="M234.50 75.30H263.50"/><g stroke-width="1.05"><path d="M246.00 75.30H252.00M249.00 72.30V78.30"/></g></g>
<text transform="translate(265.80 78.60) scale(0.95 1)" font-family="Liberation Sans, sans-serif" text-rendering="geometricPrecision" font-size="9.1" fill="#000" stroke="#000" stroke-width="0.15">TBBPSO</text>
<g fill="none" stroke="#00ffff"><path stroke-width="1.0" stroke-dasharray="3.9 3.5" d="M234.50 86.80H263.50"/><g stroke-width="1.05"><path d="M245.70 84.90H252.30L249.00 90.60Z"/></g></g>
<text transform="translate(265.80 90.70) scale(0.95 1)" font-family="Liberation Sans, sans-serif" text-rendering="geometricPrecision" font-size="9.1" fill="#000" stroke="#000" stroke-width="0.15">ETBBPSO</text>
<g fill="none" stroke="#747474" stroke-width="1">
<rect x="370.5" y="13.5" width="313.00" height="246.00"/>
<path d="M440.06 259.5v-3.5M440.06 13.5v3.5M509.61 259.5v-3.5M509.61 13.5v3.5M579.17 259.5v-3.5M579.17 13.5v3.5M648.72 259.5v-3.5M648.72 13.5v3.5M370.5 210.30h3.5M683.5 210.30h-3.5M370.5 161.10h3.5M683.5 161.10h-3.5M370.5 111.90h3.5M683.5 111.90h-3.5M370.5 62.70h3.5M683.5 62.70h-3.5"/>
</g>
<g font-family="Liberation Sans, sans-serif" text-rendering="geometricPrecision" font-size="9.7" fill="#262626" stroke="#262626" stroke-width="0.15">
<text x="370.50" y="272.9" text-anchor="middle">60</text>
<text x="440.06" y="272.9" text-anchor="middle">70</text>
<text x="509.61" y="272.9" text-anchor="middle">80</text>
<text x="579.17" y="272.9" text-anchor="middle">90</text>
<text x="648.72" y="272.9" text-anchor="middle">100</text>
<text x="366.80" y="263.60" text-anchor="end">0</text>
<text x="366.80" y="214.40" text-anchor="end">0.5</text>
<text x="366.80" y="165.20" text-anchor="end">1</text>
<text x="366.80" y="116.00" text-anchor="end">1.5</text>
<text x="366.80" y="66.80" text-anchor="end">2</text>
<text x="366.80" y="17.00" text-anchor="end">2.5</text>
<text x="371.30" y="11.4" font-size="10.6">×</text>
<text x="378.20" y="11.2">10</text>
<text x="388.40" y="6.9" font-size="8.2">6</text>
<text x="527.00" y="286.6" text-anchor="middle" font-size="10.7">(b)</text>
</g>
<g fill="none" stroke="#ffff00">
<polyline stroke-width="1.0" points="377.46,204.15 384.41,204.86 391.37,205.56 398.32,206.23 405.28,206.89 412.23,207.52 419.19,208.14 426.14,208.75 433.10,209.33 440.06,209.91 447.01,210.46 453.97,211.01 460.92,211.54 467.88,212.06 474.83,212.56 481.79,213.06 488.74,213.54 495.70,214.01 502.66,214.47 509.61,214.92 516.57,215.36 523.52,215.79 530.48,216.21 537.43,216.62 544.39,217.02 551.34,217.41 558.30,217.80 565.26,218.18 572.21,218.55 579.17,218.91 586.12,219.27 593.08,219.62 600.03,219.96 606.99,220.29 613.94,220.62 620.90,220.94 627.86,221.26 634.81,221.57 641.77,221.88 648.72,222.18 655.68,222.47"/>
<g stroke-width="1.05">
<path d="M375.56 200.85V207.45L381.26 204.15Z"/>
<path d="M382.51 201.56V208.16L388.21 204.86Z"/>
<path d="M389.47 202.26V208.86L395.17 205.56Z"/>
<path d="M396.42 202.93V209.53L402.12 206.23Z"/>
<path d="M403.38 203.59V210.19L409.08 206.89Z"/>
<path d="M410.33 204.22V210.82L416.03 207.52Z"/>
<path d="M417.29 204.84V211.44L422.99 208.14Z"/>
<path d="M424.24 205.45V212.05L429.94 208.75Z"/>
<path d="M431.20 206.03V212.63L436.90 209.33Z"/>
<path d="M438.16 206.61V213.21L443.86 209.91Z"/>
<path d="M445.11 207.16V213.76L450.81 210.46Z"/>
<path d="M452.07 207.71V214.31L457.77 211.01Z"/>
<path d="M459.02 208.24V214.84L464.72 211.54Z"/>
<path d="M465.98 208.76V215.36L471.68 212.06Z"/>
<path d="M472.93 209.26V215.86L478.63 212.56Z"/>
<path d="M479.89 209.76V216.36L485.59 213.06Z"/>
<path d="M486.84 210.24V216.84L492.54 213.54Z"/>
<path d="M493.80 210.71V217.31L499.50 214.01Z"/>
<path d="M500.76 211.17V217.77L506.46 214.47Z"/>
<path d="M507.71 211.62V218.22L513.41 214.92Z"/>
<path d="M514.67 212.06V218.66L520.37 215.36Z"/>
<path d="M521.62 212.49V219.09L527.32 215.79Z"/>
<path d="M528.58 212.91V219.51L534.28 216.21Z"/>
<path d="M535.53 213.32V219.92L541.23 216.62Z"/>
<path d="M542.49 213.72V220.32L548.19 217.02Z"/>
<path d="M549.44 214.11V220.71L555.14 217.41Z"/>
<path d="M556.40 214.50V221.10L562.10 217.80Z"/>
<path d="M563.36 214.88V221.48L569.06 218.18Z"/>
<path d="M570.31 215.25V221.85L576.01 218.55Z"/>
<path d="M577.27 215.61V222.21L582.97 218.91Z"/>
<path d="M584.22 215.97V222.57L589.92 219.27Z"/>
<path d="M591.18 216.32V222.92L596.88 219.62Z"/>
<path d="M598.13 216.66V223.26L603.83 219.96Z"/>
<path d="M605.09 216.99V223.59L610.79 220.29Z"/>
<path d="M612.04 217.32V223.92L617.74 220.62Z"/>
<path d="M619.00 217.64V224.24L624.70 220.94Z"/>
<path d="M625.96 217.96V224.56L631.66 221.26Z"/>
<path d="M632.91 218.27V224.87L638.61 221.57Z"/>
<path d="M639.87 218.58V225.18L645.57 221.88Z"/>
<path d="M646.82 218.88V225.48L652.52 222.18Z"/>
<path d="M653.78 219.17V225.77L659.48 222.47Z"/>
</g></g>
<g fill="none" stroke="#000000">
<polyline stroke-width="1.0" points="377.46,90.06 384.41,91.91 391.37,93.71 398.32,95.46 405.28,97.17 412.23,98.84 419.19,100.46 426.14,102.04 433.10,103.59 440.06,105.10 447.01,106.57 453.97,108.01 460.92,109.41 467.88,110.79 474.83,112.13 481.79,113.44 488.74,114.72 495.70,115.98 502.66,117.21 509.61,118.41 516.57,119.59 523.52,120.75 530.48,121.88 537.43,122.99 544.39,124.07 551.34,125.14 558.30,126.18 565.26,127.21 572.21,128.21 579.17,129.20 586.12,130.17 593.08,131.12 600.03,132.05 606.99,132.97 613.94,133.87 620.90,134.76 627.86,135.63 634.81,136.48 641.77,137.32 648.72,138.15 655.68,138.96"/>
<g stroke-width="1.05">
<path d="M377.46 86.26L380.26 90.06L377.46 93.86L374.66 90.06Z"/>
<path d="M384.41 88.11L387.21 91.91L384.41 95.71L381.61 91.91Z"/>
<path d="M391.37 89.91L394.17 93.71L391.37 97.51L388.57 93.71Z"/>
<path d="M398.32 91.66L401.12 95.46L398.32 99.26L395.52 95.46Z"/>
<path d="M405.28 93.37L408.08 97.17L405.28 100.97L402.48 97.17Z"/>
<path d="M412.23 95.04L415.03 98.84L412.23 102.64L409.43 98.84Z"/>
<path d="M419.19 96.66L421.99 100.46L419.19 104.26L416.39 100.46Z"/>
<path d="M426.14 98.24L428.94 102.04L426.14 105.84L423.34 102.04Z"/>
<path d="M433.10 99.79L435.90 103.59L433.10 107.39L430.30 103.59Z"/>
<path d="M440.06 101.30L442.86 105.10L440.06 108.90L437.26 105.10Z"/>
<path d="M447.01 102.77L449.81 106.57L447.01 110.37L444.21 106.57Z"/>
<path d="M453.97 104.21L456.77 108.01L453.97 111.81L451.17 108.01Z"/>
<path d="M460.92 105.61L463.72 109.41L460.92 113.21L458.12 109.41Z"/>
<path d="M467.88 106.99L470.68 110.79L467.88 114.59L465.08 110.79Z"/>
<path d="M474.83 108.33L477.63 112.13L474.83 115.93L472.03 112.13Z"/>
<path d="M481.79 109.64L484.59 113.44L481.79 117.24L478.99 113.44Z"/>
<path d="M488.74 110.92L491.54 114.72L488.74 118.52L485.94 114.72Z"/>
<path d="M495.70 112.18L498.50 115.98L495.70 119.78L492.90 115.98Z"/>
<path d="M502.66 113.41L505.46 117.21L502.66 121.01L499.86 117.21Z"/>
<path d="M509.61 114.61L512.41 118.41L509.61 122.21L506.81 118.41Z"/>
<path d="M516.57 115.79L519.37 119.59L516.57 123.39L513.77 119.59Z"/>
<path d="M523.52 116.95L526.32 120.75L523.52 124.55L520.72 120.75Z"/>
<path d="M530.48 118.08L533.28 121.88L530.48 125.68L527.68 121.88Z"/>
<path d="M537.43 119.19L540.23 122.99L537.43 126.79L534.63 122.99Z"/>
<path d="M544.39 120.27L547.19 124.07L544.39 127.87L541.59 124.07Z"/>
<path d="M551.34 121.34L554.14 125.14L551.34 128.94L548.54 125.14Z"/>
<path d="M558.30 122.38L561.10 126.18L558.30 129.98L555.50 126.18Z"/>
<path d="M565.26 123.41L568.06 127.21L565.26 131.01L562.46 127.21Z"/>
<path d="M572.21 124.41L575.01 128.21L572.21 132.01L569.41 128.21Z"/>
<path d="M579.17 125.40L581.97 129.20L579.17 133.00L576.37 129.20Z"/>
<path d="M586.12 126.37L588.92 130.17L586.12 133.97L583.32 130.17Z"/>
<path d="M593.08 127.32L595.88 131.12L593.08 134.92L590.28 131.12Z"/>
<path d="M600.03 128.25L602.83 132.05L600.03 135.85L597.23 132.05Z"/>
<path d="M606.99 129.17L609.79 132.97L606.99 136.77L604.19 132.97Z"/>
<path d="M613.94 130.07L616.74 133.87L613.94 137.67L611.14 133.87Z"/>
<path d="M620.90 130.96L623.70 134.76L620.90 138.56L618.10 134.76Z"/>
<path d="M627.86 131.83L630.66 135.63L627.86 139.43L625.06 135.63Z"/>
<path d="M634.81 132.68L637.61 136.48L634.81 140.28L632.01 136.48Z"/>
<path d="M641.77 133.52L644.57 137.32L641.77 141.12L638.97 137.32Z"/>
<path d="M648.72 134.35L651.52 138.15L648.72 141.95L645.92 138.15Z"/>
<path d="M655.68 135.16L658.48 138.96L655.68 142.76L652.88 138.96Z"/>
</g></g>
<g fill="none" stroke="#00ff00">
<polyline stroke-width="1.0" points="377.46,109.93 384.41,111.52 391.37,113.08 398.32,114.60 405.28,116.09 412.23,117.55 419.19,118.98 426.14,120.38 433.10,121.76 440.06,123.11 447.01,124.44 453.97,125.74 460.92,127.02 467.88,128.28 474.83,129.52 481.79,130.73 488.74,131.93 495.70,133.11 502.66,134.27 509.61,135.41 516.57,136.54 523.52,137.65 530.48,138.74 537.43,139.82 544.39,140.88 551.34,141.93 558.30,142.96 565.26,143.98 572.21,144.99 579.17,145.98 586.12,146.96 593.08,147.93 600.03,148.89 606.99,149.84 613.94,150.78 620.90,151.70 627.86,152.62 634.81,153.52 641.77,154.42 648.72,155.30 655.68,156.18"/>
<g stroke-width="1.05">
<circle cx="377.46" cy="109.93" r="2.65"/>
<circle cx="384.41" cy="111.52" r="2.65"/>
<circle cx="391.37" cy="113.08" r="2.65"/>
<circle cx="398.32" cy="114.60" r="2.65"/>
<circle cx="405.28" cy="116.09" r="2.65"/>
<circle cx="412.23" cy="117.55" r="2.65"/>
<circle cx="419.19" cy="118.98" r="2.65"/>
<circle cx="426.14" cy="120.38" r="2.65"/>
<circle cx="433.10" cy="121.76" r="2.65"/>
<circle cx="440.06" cy="123.11" r="2.65"/>
<circle cx="447.01" cy="124.44" r="2.65"/>
<circle cx="453.97" cy="125.74" r="2.65"/>
<circle cx="460.92" cy="127.02" r="2.65"/>
<circle cx="467.88" cy="128.28" r="2.65"/>
<circle cx="474.83" cy="129.52" r="2.65"/>
<circle cx="481.79" cy="130.73" r="2.65"/>
<circle cx="488.74" cy="131.93" r="2.65"/>
<circle cx="495.70" cy="133.11" r="2.65"/>
<circle cx="502.66" cy="134.27" r="2.65"/>
<circle cx="509.61" cy="135.41" r="2.65"/>
<circle cx="516.57" cy="136.54" r="2.65"/>
<circle cx="523.52" cy="137.65" r="2.65"/>
<circle cx="530.48" cy="138.74" r="2.65"/>
<circle cx="537.43" cy="139.82" r="2.65"/>
<circle cx="544.39" cy="140.88" r="2.65"/>
<circle cx="551.34" cy="141.93" r="2.65"/>
<circle cx="558.30" cy="142.96" r="2.65"/>
<circle cx="565.26" cy="143.98" r="2.65"/>
<circle cx="572.21" cy="144.99" r="2.65"/>
<circle cx="579.17" cy="145.98" r="2.65"/>
<circle cx="586.12" cy="146.96" r="2.65"/>
<circle cx="593.08" cy="147.93" r="2.65"/>
<circle cx="600.03" cy="148.89" r="2.65"/>
<circle cx="606.99" cy="149.84" r="2.65"/>
<circle cx="613.94" cy="150.78" r="2.65"/>
<circle cx="620.90" cy="151.70" r="2.65"/>
<circle cx="627.86" cy="152.62" r="2.65"/>
<circle cx="634.81" cy="153.52" r="2.65"/>
<circle cx="641.77" cy="154.42" r="2.65"/>
<circle cx="648.72" cy="155.30" r="2.65"/>
<circle cx="655.68" cy="156.18" r="2.65"/>
</g></g>
<g fill="none" stroke="#0000ff">
<polyline stroke-width="1.0" points="377.46,84.94 384.41,87.04 391.37,89.09 398.32,91.08 405.28,93.02 412.23,94.90 419.19,96.74 426.14,98.53 433.10,100.27 440.06,101.97 447.01,103.63 453.97,105.24 460.92,106.82 467.88,108.36 474.83,109.87 481.79,111.34 488.74,112.78 495.70,114.18 502.66,115.56 509.61,116.90 516.57,118.22 523.52,119.50 530.48,120.76 537.43,122.00 544.39,123.20 551.34,124.39 558.30,125.55 565.26,126.68 572.21,127.80 579.17,128.89 586.12,129.96 593.08,131.01 600.03,132.04 606.99,133.06 613.94,134.05 620.90,135.03 627.86,135.98 634.81,136.92 641.77,137.85 648.72,138.76 655.68,139.65"/>
<g stroke-width="1.05">
<path stroke-width="1.12" d="M374.76 84.94H380.16M377.46 82.04V87.84M375.41 82.89L379.51 86.99M375.41 86.99L379.51 82.89"/>
<path stroke-width="1.12" d="M381.71 87.04H387.11M384.41 84.14V89.94M382.36 84.99L386.46 89.09M382.36 89.09L386.46 84.99"/>
<path stroke-width="1.12" d="M388.67 89.09H394.07M391.37 86.19V91.99M389.32 87.04L393.42 91.14M389.32 91.14L393.42 87.04"/>
<path stroke-width="1.12" d="M395.62 91.08H401.02M398.32 88.18V93.98M396.27 89.03L400.37 93.13M396.27 93.13L400.37 89.03"/>
<path stroke-width="1.12" d="M402.58 93.02H407.98M405.28 90.12V95.92M403.23 90.97L407.33 95.07M403.23 95.07L407.33 90.97"/>
<path stroke-width="1.12" d="M409.53 94.90H414.93M412.23 92.00V97.80M410.18 92.85L414.28 96.95M410.18 96.95L414.28 92.85"/>
<path stroke-width="1.12" d="M416.49 96.74H421.89M419.19 93.84V99.64M417.14 94.69L421.24 98.79M417.14 98.79L421.24 94.69"/>
<path stroke-width="1.12" d="M423.44 98.53H428.84M426.14 95.63V101.43M424.09 96.48L428.19 100.58M424.09 100.58L428.19 96.48"/>
<path stroke-width="1.12" d="M430.40 100.27H435.80M433.10 97.37V103.17M431.05 98.22L435.15 102.32M431.05 102.32L435.15 98.22"/>
<path stroke-width="1.12" d="M437.36 101.97H442.76M440.06 99.07V104.87M438.01 99.92L442.11 104.02M438.01 104.02L442.11 99.92"/>
<path stroke-width="1.12" d="M444.31 103.63H449.71M447.01 100.73V106.53M444.96 101.58L449.06 105.68M444.96 105.68L449.06 101.58"/>
<path stroke-width="1.12" d="M451.27 105.24H456.67M453.97 102.34V108.14M451.92 103.19L456.02 107.29M451.92 107.29L456.02 103.19"/>
<path stroke-width="1.12" d="M458.22 106.82H463.62M460.92 103.92V109.72M458.87 104.77L462.97 108.87M458.87 108.87L462.97 104.77"/>
<path stroke-width="1.12" d="M465.18 108.36H470.58M467.88 105.46V111.26M465.83 106.31L469.93 110.41M465.83 110.41L469.93 106.31"/>
<path stroke-width="1.12" d="M472.13 109.87H477.53M474.83 106.97V112.77M472.78 107.82L476.88 111.92M472.78 111.92L476.88 107.82"/>
<path stroke-width="1.12" d="M479.09 111.34H484.49M481.79 108.44V114.24M479.74 109.29L483.84 113.39M479.74 113.39L483.84 109.29"/>
<path stroke-width="1.12" d="M486.04 112.78H491.44M488.74 109.88V115.68M486.69 110.73L490.79 114.83M486.69 114.83L490.79 110.73"/>
<path stroke-width="1.12" d="M493.00 114.18H498.40M495.70 111.28V117.08M493.65 112.13L497.75 116.23M493.65 116.23L497.75 112.13"/>
<path stroke-width="1.12" d="M499.96 115.56H505.36M502.66 112.66V118.46M500.61 113.51L504.71 117.61M500.61 117.61L504.71 113.51"/>
<path stroke-width="1.12" d="M506.91 116.90H512.31M509.61 114.00V119.80M507.56 114.85L511.66 118.95M507.56 118.95L511.66 114.85"/>
<path stroke-width="1.12" d="M513.87 118.22H519.27M516.57 115.32V121.12M514.52 116.17L518.62 120.27M514.52 120.27L518.62 116.17"/>
<path stroke-width="1.12" d="M520.82 119.50H526.22M523.52 116.60V122.40M521.47 117.45L525.57 121.55M521.47 121.55L525.57 117.45"/>
<path stroke-width="1.12" d="M527.78 120.76H533.18M530.48 117.86V123.66M528.43 118.71L532.53 122.81M528.43 122.81L532.53 118.71"/>
<path stroke-width="1.12" d="M534.73 122.00H540.13M537.43 119.10V124.90M535.38 119.95L539.48 124.05M535.38 124.05L539.48 119.95"/>
<path stroke-width="1.12" d="M541.69 123.20H547.09M544.39 120.30V126.10M542.34 121.15L546.44 125.25M542.34 125.25L546.44 121.15"/>
<path stroke-width="1.12" d="M548.64 124.39H554.04M551.34 121.49V127.29M549.29 122.34L553.39 126.44M549.29 126.44L553.39 122.34"/>
<path stroke-width="1.12" d="M555.60 125.55H561.00M558.30 122.65V128.45M556.25 123.50L560.35 127.60M556.25 127.60L560.35 123.50"/>
<path stroke-width="1.12" d="M562.56 126.68H567.96M565.26 123.78V129.58M563.21 124.63L567.31 128.73M563.21 128.73L567.31 124.63"/>
<path stroke-width="1.12" d="M569.51 127.80H574.91M572.21 124.90V130.70M570.16 125.75L574.26 129.85M570.16 129.85L574.26 125.75"/>
<path stroke-width="1.12" d="M576.47 128.89H581.87M579.17 125.99V131.79M577.12 126.84L581.22 130.94M577.12 130.94L581.22 126.84"/>
<path stroke-width="1.12" d="M583.42 129.96H588.82M586.12 127.06V132.86M584.07 127.91L588.17 132.01M584.07 132.01L588.17 127.91"/>
<path stroke-width="1.12" d="M590.38 131.01H595.78M593.08 128.11V133.91M591.03 128.96L595.13 133.06M591.03 133.06L595.13 128.96"/>
<path stroke-width="1.12" d="M597.33 132.04H602.73M600.03 129.14V134.94M597.98 129.99L602.08 134.09M597.98 134.09L602.08 129.99"/>
<path stroke-width="1.12" d="M604.29 133.06H609.69M606.99 130.16V135.96M604.94 131.01L609.04 135.11M604.94 135.11L609.04 131.01"/>
<path stroke-width="1.12" d="M611.24 134.05H616.64M613.94 131.15V136.95M611.89 132.00L615.99 136.10M611.89 136.10L615.99 132.00"/>
<path stroke-width="1.12" d="M618.20 135.03H623.60M620.90 132.13V137.93M618.85 132.98L622.95 137.08M618.85 137.08L622.95 132.98"/>
<path stroke-width="1.12" d="M625.16 135.98H630.56M627.86 133.08V138.88M625.81 133.93L629.91 138.03M625.81 138.03L629.91 133.93"/>
<path stroke-width="1.12" d="M632.11 136.92H637.51M634.81 134.02V139.82M632.76 134.87L636.86 138.97M632.76 138.97L636.86 134.87"/>
<path stroke-width="1.12" d="M639.07 137.85H644.47M641.77 134.95V140.75M639.72 135.80L643.82 139.90M639.72 139.90L643.82 135.80"/>
<path stroke-width="1.12" d="M646.02 138.76H651.42M648.72 135.86V141.66M646.67 136.71L650.77 140.81M646.67 140.81L650.77 136.71"/>
<path stroke-width="1.12" d="M652.98 139.65H658.38M655.68 136.75V142.55M653.63 137.60L657.73 141.70M653.63 141.70L657.73 137.60"/>
</g></g>
<g fill="none" stroke="#ff0000">
<polyline stroke-width="1.0" stroke-dasharray="3.9 3.5" points="377.46,75.20 384.41,77.41 391.37,79.57 398.32,81.69 405.28,83.75 412.23,85.78 419.19,87.76 426.14,89.70 433.10,91.60 440.06,93.46 447.01,95.29 453.97,97.08 460.92,98.84 467.88,100.57 474.83,102.27 481.79,103.93 488.74,105.57 495.70,107.18 502.66,108.77 509.61,110.33 516.57,111.86 523.52,113.37 530.48,114.86 537.43,116.33 544.39,117.77 551.34,119.20 558.30,120.60 565.26,121.99 572.21,123.35 579.17,124.70 586.12,126.03 593.08,127.34 600.03,128.64 606.99,129.92 613.94,131.18 620.90,132.43 627.86,133.67 634.81,134.89 641.77,136.09 648.72,137.29 655.68,138.47"/>
<g stroke-width="1.05">
<path d="M374.46 75.20H380.46M377.46 72.20V78.20"/>
<path d="M381.41 77.41H387.41M384.41 74.41V80.41"/>
<path d="M388.37 79.57H394.37M391.37 76.57V82.57"/>
<path d="M395.32 81.69H401.32M398.32 78.69V84.69"/>
<path d="M402.28 83.75H408.28M405.28 80.75V86.75"/>
<path d="M409.23 85.78H415.23M412.23 82.78V88.78"/>
<path d="M416.19 87.76H422.19M419.19 84.76V90.76"/>
<path d="M423.14 89.70H429.14M426.14 86.70V92.70"/>
<path d="M430.10 91.60H436.10M433.10 88.60V94.60"/>
<path d="M437.06 93.46H443.06M440.06 90.46V96.46"/>
<path d="M444.01 95.29H450.01M447.01 92.29V98.29"/>
<path d="M450.97 97.08H456.97M453.97 94.08V100.08"/>
<path d="M457.92 98.84H463.92M460.92 95.84V101.84"/>
<path d="M464.88 100.57H470.88M467.88 97.57V103.57"/>
<path d="M471.83 102.27H477.83M474.83 99.27V105.27"/>
<path d="M478.79 103.93H484.79M481.79 100.93V106.93"/>
<path d="M485.74 105.57H491.74M488.74 102.57V108.57"/>
<path d="M492.70 107.18H498.70M495.70 104.18V110.18"/>
<path d="M499.66 108.77H505.66M502.66 105.77V111.77"/>
<path d="M506.61 110.33H512.61M509.61 107.33V113.33"/>
<path d="M513.57 111.86H519.57M516.57 108.86V114.86"/>
<path d="M520.52 113.37H526.52M523.52 110.37V116.37"/>
<path d="M527.48 114.86H533.48M530.48 111.86V117.86"/>
<path d="M534.43 116.33H540.43M537.43 113.33V119.33"/>
<path d="M541.39 117.77H547.39M544.39 114.77V120.77"/>
<path d="M548.34 119.20H554.34M551.34 116.20V122.20"/>
<path d="M555.30 120.60H561.30M558.30 117.60V123.60"/>
<path d="M562.26 121.99H568.26M565.26 118.99V124.99"/>
<path d="M569.21 123.35H575.21M572.21 120.35V126.35"/>
<path d="M576.17 124.70H582.17M579.17 121.70V127.70"/>
<path d="M583.12 126.03H589.12M586.12 123.03V129.03"/>
<path d="M590.08 127.34H596.08M593.08 124.34V130.34"/>
<path d="M597.03 128.64H603.03M600.03 125.64V131.64"/>
<path d="M603.99 129.92H609.99M606.99 126.92V132.92"/>
<path d="M610.94 131.18H616.94M613.94 128.18V134.18"/>
<path d="M617.90 132.43H623.90M620.90 129.43V135.43"/>
<path d="M624.86 133.67H630.86M627.86 130.67V136.67"/>
<path d="M631.81 134.89H637.81M634.81 131.89V137.89"/>
<path d="M638.77 136.09H644.77M641.77 133.09V139.09"/>
<path d="M645.72 137.29H651.72M648.72 134.29V140.29"/>
<path d="M652.68 138.47H658.68M655.68 135.47V141.47"/>
</g></g>
<g fill="none" stroke="#00ffff">
<polyline stroke-width="1.0" stroke-dasharray="3.9 3.5" points="377.46,39.77 384.41,42.34 391.37,44.83 398.32,47.26 405.28,49.62 412.23,51.92 419.19,54.16 426.14,56.34 433.10,58.47 440.06,60.55 447.01,62.57 453.97,64.55 460.92,66.48 467.88,68.37 474.83,70.21 481.79,72.01 488.74,73.77 495.70,75.49 502.66,77.17 509.61,78.82 516.57,80.43 523.52,82.01 530.48,83.56 537.43,85.07 544.39,86.55 551.34,88.00 558.30,89.43 565.26,90.83 572.21,92.19 579.17,93.54 586.12,94.86 593.08,96.15 600.03,97.42 606.99,98.66 613.94,99.89 620.90,101.09 627.86,102.27 634.81,103.43 641.77,104.56 648.72,105.68 655.68,106.78"/>
<g stroke-width="1.05">
<path d="M374.16 37.87H380.76L377.46 43.57Z"/>
<path d="M381.11 40.44H387.71L384.41 46.14Z"/>
<path d="M388.07 42.93H394.67L391.37 48.63Z"/>
<path d="M395.02 45.36H401.62L398.32 51.06Z"/>
<path d="M401.98 47.72H408.58L405.28 53.42Z"/>
<path d="M408.93 50.02H415.53L412.23 55.72Z"/>
<path d="M415.89 52.26H422.49L419.19 57.96Z"/>
<path d="M422.84 54.44H429.44L426.14 60.14Z"/>
<path d="M429.80 56.57H436.40L433.10 62.27Z"/>
<path d="M436.76 58.65H443.36L440.06 64.35Z"/>
<path d="M443.71 60.67H450.31L447.01 66.37Z"/>
<path d="M450.67 62.65H457.27L453.97 68.35Z"/>
<path d="M457.62 64.58H464.22L460.92 70.28Z"/>
<path d="M464.58 66.47H471.18L467.88 72.17Z"/>
<path d="M471.53 68.31H478.13L474.83 74.01Z"/>
<path d="M478.49 70.11H485.09L481.79 75.81Z"/>
<path d="M485.44 71.87H492.04L488.74 77.57Z"/>
<path d="M492.40 73.59H499.00L495.70 79.29Z"/>
<path d="M499.36 75.27H505.96L502.66 80.97Z"/>
<path d="M506.31 76.92H512.91L509.61 82.62Z"/>
<path d="M513.27 78.53H519.87L516.57 84.23Z"/>
<path d="M520.22 80.11H526.82L523.52 85.81Z"/>
<path d="M527.18 81.66H533.78L530.48 87.36Z"/>
<path d="M534.13 83.17H540.73L537.43 88.87Z"/>
<path d="M541.09 84.65H547.69L544.39 90.35Z"/>
<path d="M548.04 86.10H554.64L551.34 91.80Z"/>
<path d="M555.00 87.53H561.60L558.30 93.23Z"/>
<path d="M561.96 88.93H568.56L565.26 94.63Z"/>
<path d="M568.91 90.29H575.51L572.21 95.99Z"/>
<path d="M575.87 91.64H582.47L579.17 97.34Z"/>
<path d="M582.82 92.96H589.42L586.12 98.66Z"/>
<path d="M589.78 94.25H596.38L593.08 99.95Z"/>
<path d="M596.73 95.52H603.33L600.03 101.22Z"/>
<path d="M603.69 96.76H610.29L606.99 102.46Z"/>
<path d="M610.64 97.99H617.24L613.94 103.69Z"/>
<path d="M617.60 99.19H624.20L620.90 104.89Z"/>
<path d="M624.56 100.37H631.16L627.86 106.07Z"/>
<path d="M631.51 101.53H638.11L634.81 107.23Z"/>
<path d="M638.47 102.66H645.07L641.77 108.36Z"/>
<path d="M645.42 103.78H652.02L648.72 109.48Z"/>
<path d="M652.38 104.88H658.98L655.68 110.58Z"/>
</g></g>
<rect x="592.4" y="20.6" width="83.2" height="73.6" fill="#fff" stroke="#6a6a6a" stroke-width="0.9"/>
<g fill="none" stroke="#ffff00"><path stroke-width="1.0" d="M594.80 28.20H623.80"/><g stroke-width="1.05"><path d="M607.40 24.90V31.50L613.10 28.20Z"/></g></g>
<text transform="translate(626.10 31.20) scale(0.95 1)" font-family="Liberation Sans, sans-serif" text-rendering="geometricPrecision" font-size="9.1" fill="#000" stroke="#000" stroke-width="0.15">HCOA</text>
<g fill="none" stroke="#000000"><path stroke-width="1.0" d="M594.80 39.50H623.80"/><g stroke-width="1.05"><path d="M609.30 35.70L612.10 39.50L609.30 43.30L606.50 39.50Z"/></g></g>
<text transform="translate(626.10 42.80) scale(0.95 1)" font-family="Liberation Sans, sans-serif" text-rendering="geometricPrecision" font-size="9.1" fill="#000" stroke="#000" stroke-width="0.15">BBPSO</text>
<g fill="none" stroke="#00ff00"><path stroke-width="1.0" d="M594.80 51.50H623.80"/><g stroke-width="1.05"><circle cx="609.30" cy="51.50" r="2.65"/></g></g>
<text transform="translate(626.10 54.80) scale(0.95 1)" font-family="Liberation Sans, sans-serif" text-rendering="geometricPrecision" font-size="9.1" fill="#000" stroke="#000" stroke-width="0.15">PBBPSO</text>
<g fill="none" stroke="#0000ff"><path stroke-width="1.0" d="M594.80 63.50H623.80"/><g stroke-width="1.05"><path stroke-width="1.12" d="M606.60 63.50H612.00M609.30 60.60V66.40M607.25 61.45L611.35 65.55M607.25 65.55L611.35 61.45"/></g></g>
<text transform="translate(626.10 66.80) scale(0.95 1)" font-family="Liberation Sans, sans-serif" text-rendering="geometricPrecision" font-size="9.1" fill="#000" stroke="#000" stroke-width="0.15">DLSBBPSO</text>
<g fill="none" stroke="#ff0000"><path stroke-width="1.0" stroke-dasharray="3.9 3.5" d="M594.80 75.30H623.80"/><g stroke-width="1.05"><path d="M606.30 75.30H612.30M609.30 72.30V78.30"/></g></g>
<text transform="translate(626.10 78.60) scale(0.95 1)" font-family="Liberation Sans, sans-serif" text-rendering="geometricPrecision" font-size="9.1" fill="#000" stroke="#000" stroke-width="0.15">TBBPSO</text>
<g fill="none" stroke="#00ffff"><path stroke-width="1.0" stroke-dasharray="3.9 3.5" d="M594.80 86.80H623.80"/><g stroke-width="1.05"><path d="M606.00 84.90H612.60L609.30 90.60Z"/></g></g>
<text transform="translate(626.10 90.70) scale(0.95 1)" font-family="Liberation Sans, sans-serif" text-rendering="geometricPrecision" font-size="9.1" fill="#000" stroke="#000" stroke-width="0.15">ETBBPSO</text>
</svg>
</body></html>
